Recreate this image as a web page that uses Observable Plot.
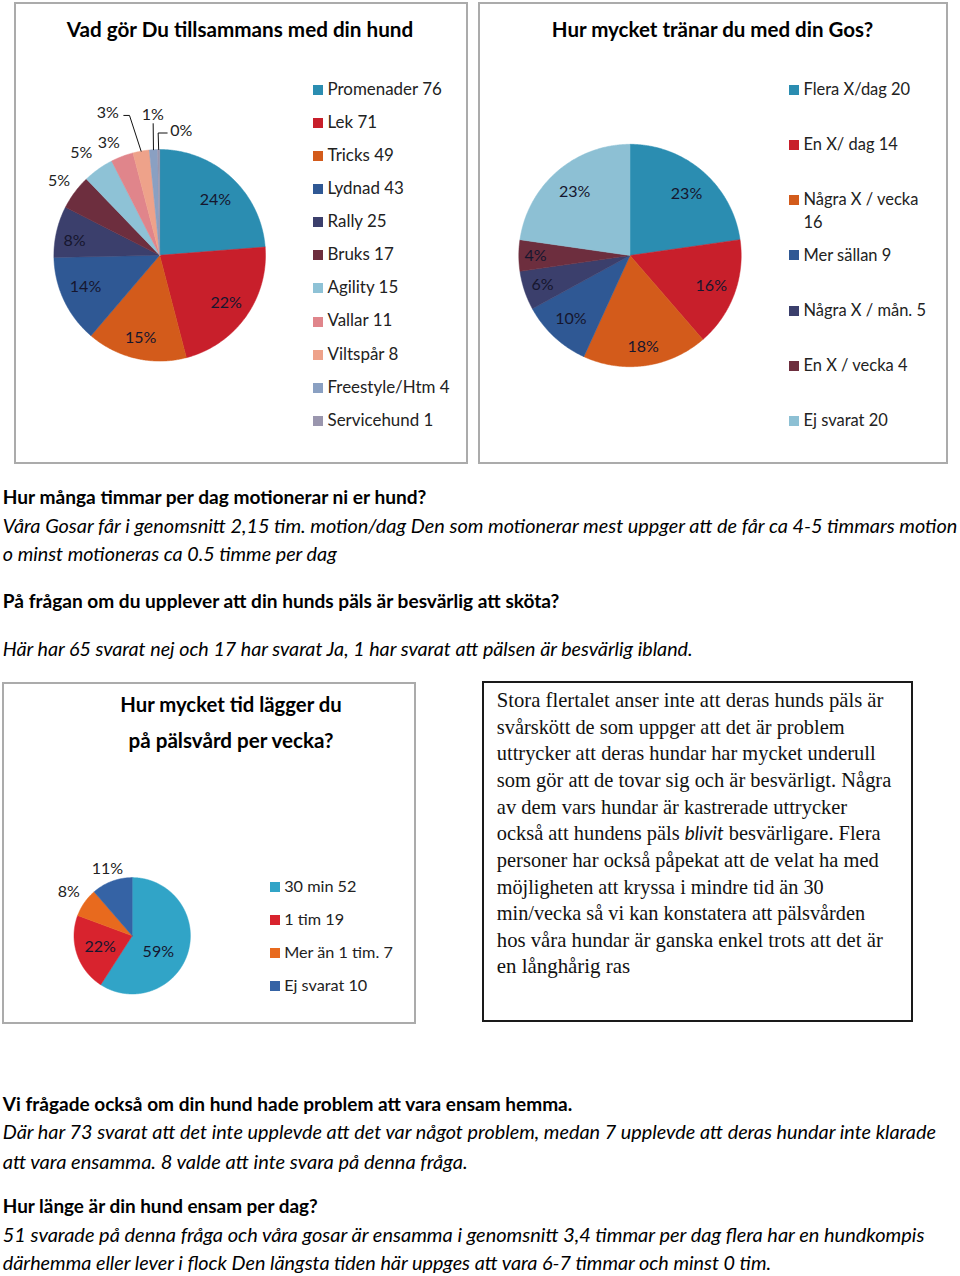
<!DOCTYPE html>
<html>
<head>
<meta charset="utf-8">
<script src="https://cdn.jsdelivr.net/npm/d3@7"></script>
<script src="https://cdn.jsdelivr.net/npm/@observablehq/plot@0.6"></script>
<style>
html,body{margin:0;padding:0;background:#fff;}
#page{position:relative;width:960px;height:1276px;overflow:hidden;background:#fff;}
.abs{position:absolute;white-space:pre;margin:0;padding:0;}
.frame{position:absolute;box-sizing:border-box;}
.svgwrap{position:absolute;}
.svgwrap svg{display:block;overflow:visible;}
.sq{position:absolute;width:10px;height:10px;}
</style>
</head>
<body>
<div id="page"></div>
<script>
// ---------------- DATA ----------------
const activityTitle = "Vad gör Du tillsammans med din hund";
const activityCategories = ["Promenader","Lek","Tricks","Lydnad","Rally","Bruks","Agility","Vallar","Viltspår","Freestyle/Htm","Servicehund"];
const activityValues = [76,71,49,43,25,17,15,11,8,4,1];
const activityPercentLabels = ["24%","22%","15%","14%","8%","5%","5%","3%","3%","1%","0%"];
const activityColors = ["#2b8db1","#c81f2b","#d35b1b","#2f5894","#3b3f6c","#6d2e3e","#8ec2d6","#e0858b","#eea28a","#8aa0c2","#9a96ae"];

const trainingTitle = "Hur mycket tränar du med din Gos?";
const trainingCategories = ["Flera X/dag","En X/ dag","Några X / vecka","Mer sällan","Några X / mån.","En X / vecka","Ej svarat"];
const trainingValues = [20,14,16,9,5,4,20];
const trainingPercentLabels = ["23%","16%","18%","10%","6%","4%","23%"];
const trainingColors = ["#2b8db1","#c81f2b","#d35b1b","#2f5894","#3b3f6c","#6d2e3e","#8dc0d4"];

const groomingTitle = ["Hur mycket tid lägger du","på pälsvård per vecka?"];
const groomingCategories = ["30 min","1 tim","Mer än 1 tim.","Ej svarat"];
const groomingValues = [52,19,7,10];
const groomingPercentLabels = ["59%","22%","8%","11%"];
const groomingColors = ["#31a4c7","#d8232e","#e86a1e","#3563a5"];

const exerciseHeading = "Hur många timmar per dag motionerar ni er hund?";
const exerciseText = ["Våra Gosar får i genomsnitt 2,15 tim. motion/dag Den som motionerar mest uppger att de får ca 4-5 timmars motion","o minst motioneras ca 0.5 timme per dag"];
const coatHeading = "På frågan om du upplever att din hunds päls är besvärlig att sköta?";
const coatText = ["Här har 65 svarat nej och 17 har svarat Ja, 1 har svarat att pälsen är besvärlig ibland."];
const aloneHeading = "Vi frågade också om din hund hade problem att vara ensam hemma.";
const aloneText = ["Där har 73 svarat att det inte upplevde att det var något problem, medan 7 upplevde att deras hundar inte klarade","att vara ensamma. 8 valde att inte svara på denna fråga."];
const aloneTimeHeading = "Hur länge är din hund ensam per dag?";
const aloneTimeText = ["51 svarade på denna fråga och våra gosar är ensamma i genomsnitt 3,4 timmar per dag flera har en hundkompis","därhemma eller lever i flock Den längsta tiden här uppges att vara 6-7 timmar och minst 0 tim."];
const groomingComment = ["Stora flertalet anser inte att deras hunds päls är","svårskött de som uppger att det är problem","uttrycker att deras hundar har mycket underull","som gör att de tovar sig och är besvärligt. Några","av dem vars hundar är kastrerade uttrycker","också att hundens päls blivit besvärligare. Flera","personer har också påpekat att de velat ha med","möjligheten att kryssa i mindre tid än 30","min/vecka så vi kan konstatera att pälsvården","hos våra hundar är ganska enkel trots att det är","en långhårig ras"];
const groomingCommentItalicWord = "blivit";

// ---------------- HELPERS ----------------
const SANS = "Lato, 'Open Sans', sans-serif";
const SERIF = "'Liberation Serif', 'DejaVu Serif', serif";
const page = document.getElementById("page");

function place(o) {
  const el = document.createElement("div");
  el.className = "abs";
  const fam = o.family || SANS;
  el.style.fontFamily = fam;
  el.style.fontWeight = o.weight || "400";
  el.style.fontStyle = o.italic ? "italic" : "normal";
  el.style.color = o.color || "#000";
  let fs = o.fs;
  el.style.fontSize = fs + "px";
  el.style.lineHeight = (1.2 * fs) + "px";
  if (o.html) el.innerHTML = o.html; else el.textContent = o.text;
  page.appendChild(el);
  if (o.fitW) {
    const m = el.getBoundingClientRect().width;
    fs = fs * o.fitW / m;
    el.style.fontSize = fs + "px";
  }
  if (o.wrap) { el.style.whiteSpace = "normal"; el.style.width = o.wrap + "px"; }
  const L = o.lh || 1.2 * fs;
  el.style.lineHeight = L + "px";
  const M = fam === SERIF ? {c: 1.107, a: 0.891} : {c: 1.2, a: 0.987};
  const top = o.baseline - ((L - M.c * fs) / 2 + M.a * fs);
  const w = el.getBoundingClientRect().width;
  el.style.left = (o.anchor === "middle" ? o.x - w / 2 : o.x) + "px";
  el.style.top = top + "px";
  return fs;
}

function frame(b, border) {
  const d = document.createElement("div");
  d.className = "frame";
  Object.assign(d.style, {left: b.x + "px", top: b.y + "px", width: b.w + "px", height: b.h + "px", border});
  page.appendChild(d);
}

function legend(cfg) {
  const {categories, values, colors, x, sqX, baseline0, step, fitW, wrap, lh} = cfg;
  let fs = null;
  categories.forEach((c, i) => {
    const bl = baseline0 + i * step;
    const sq = document.createElement("div");
    sq.className = "sq";
    sq.style.left = sqX + "px";
    sq.style.top = (bl - 5.7 - 5) + "px";
    sq.style.background = colors[i];
    page.appendChild(sq);
    const text = c + " " + values[i];
    if (fs === null) fs = place({text, x, baseline: bl, fs: 16, fitW, color: "#222", wrap, lh});
    else place({text, x, baseline: bl, fs, color: "#222", wrap, lh});
  });
}

function pie(cfg) {
  const {box, cx, cy, r, categories, values, pctLabels, colors, labelK, nudges, leaders} = cfg;
  const arcs = d3.pie().sort(null).value(d => d)(values);
  const poly = [];
  arcs.forEach((a, i) => {
    const key = categories[i];
    poly.push({key, x: 0, y: 0});
    const n = Math.max(2, Math.ceil((a.endAngle - a.startAngle) / (Math.PI / 360)));
    for (let j = 0; j <= n; j++) {
      const t = a.startAngle + (a.endAngle - a.startAngle) * j / n;
      poly.push({key, x: Math.sin(t), y: Math.cos(t)});
    }
    poly.push({key, x: 0, y: 0});
  });
  const labels = arcs.map((a, i) => {
    const m = (a.startAngle + a.endAngle) / 2;
    const k = labelK[i];
    const [nx, ny] = nudges[i] || [0, 0];
    return {text: pctLabels[i], x: k * Math.sin(m) + nx / r, y: k * Math.cos(m) - ny / r, outside: k >= 1};
  });
  const leaderPts = [];
  Object.entries(leaders || {}).forEach(([idx, offs]) => {
    const a = arcs[+idx];
    const m = (a.startAngle + a.endAngle) / 2;
    const ex = Math.sin(m), ey = Math.cos(m);
    offs.forEach(([dx, dy]) => leaderPts.push({id: idx, x: ex + dx / r, y: ey - dy / r}));
  });
  const lx = cx - box.x, ly = cy - box.y;
  const svg = Plot.plot({
    width: box.w, height: box.h, margin: 0,
    x: {domain: [-1, 1], range: [lx - r, lx + r], axis: null},
    y: {domain: [-1, 1], range: [ly + r, ly - r], axis: null},
    color: {domain: categories, range: colors},
    style: {fontFamily: SANS, background: "transparent", overflow: "visible"},
    marks: [
      Plot.line(poly, {x: "x", y: "y", z: "key", fill: "key", stroke: "key", strokeWidth: 0.5, curve: "linear"}),
      Plot.line(leaderPts, {x: "x", y: "y", z: "id", stroke: "#111", strokeWidth: 1, curve: "linear"}),
      Plot.text(labels.filter(d => !d.outside), {x: "x", y: "y", text: "text", fill: "#16162e", fontSize: 16}),
      Plot.text(labels.filter(d => d.outside), {x: "x", y: "y", text: "text", fill: "#222", fontSize: 16})
    ]
  });
  const wrap = document.createElement("div");
  wrap.className = "svgwrap";
  wrap.style.left = box.x + "px";
  wrap.style.top = box.y + "px";
  wrap.appendChild(svg);
  page.appendChild(wrap);
}

// ---------------- CHART 1 ----------------
const box1 = {x: 14, y: 2, w: 454, h: 462};
frame(box1, "2px solid #ababab");
pie({
  box: box1, cx: 159.2, cy: 254.8, r: 105.8,
  categories: activityCategories, values: activityValues, pctLabels: activityPercentLabels, colors: activityColors,
  labelK: [0.74, 0.77, 0.80, 0.76, 0.82, 1.185, 1.22, 1.16, 1, 1, 1],
  nudges: [[2.5, 2.5], [0, 0], [0, 0], [-1.5, -2.4], [-0.6, 4.6], [0, 0], [-3.5, 2.7], [-7.3, 2.6], [-33.3, -38], [-0.7, -34.9], [22.6, -19]],
  leaders: {8: [[0, 0], [-11.6, -35.7], [-17.3, -35.7]], 9: [[0, 0], [-0.3, -26]], 10: [[0, 0], [-0.5, -16.5], [8.5, -16.5]]}
});
place({text: activityTitle, x: 240, anchor: "middle", baseline: 37.5, fs: 20, weight: 700, fitW: 346.7});
legend({categories: activityCategories, values: activityValues, colors: activityColors, x: 327.5, sqX: 312.7, baseline0: 95.5, step: 33.1, fitW: 114.4});

// ---------------- CHART 2 ----------------
const box2 = {x: 478, y: 2, w: 470, h: 462};
frame(box2, "2px solid #ababab");
pie({
  box: box2, cx: 629.5, cy: 255, r: 111.2,
  categories: trainingCategories, values: trainingValues, pctLabels: trainingPercentLabels, colors: trainingColors,
  labelK: [0.75, 0.78, 0.83, 0.78, 0.83, 0.85, 0.76],
  nudges: [[1.9, 1.3], [0, 0], [0, 0], [0, 0], [0, 0], [0, 0], [0, 0]],
  leaders: {}
});
place({text: trainingTitle, x: 712.5, anchor: "middle", baseline: 37.5, fs: 20, weight: 700, fitW: 321.7});
legend({categories: trainingCategories, values: trainingValues, colors: trainingColors, x: 803.5, sqX: 789.3, baseline0: 95.5, step: 55.2, fitW: 106.7, wrap: 134, lh: 22.3});

// ---------------- CHART 3 ----------------
const box3 = {x: 2, y: 682, w: 414, h: 342};
frame(box3, "2px solid #ababab");
pie({
  box: box3, cx: 131.7, cy: 935.3, r: 58.2,
  categories: groomingCategories, values: groomingValues, pctLabels: groomingPercentLabels, colors: groomingColors,
  labelK: [0.53, 0.58, 1.327, 1.222],
  nudges: [[-3.5, 7.7], [0, 0], [0, 0], [0, 0]],
  leaders: {}
});
place({text: groomingTitle[0], x: 231, anchor: "middle", baseline: 712, fs: 20, weight: 700, fitW: 221.7});
place({text: groomingTitle[1], x: 231, anchor: "middle", baseline: 748.5, fs: 20, weight: 700, fitW: 205});
legend({categories: groomingCategories, values: groomingValues, colors: groomingColors, x: 284.2, sqX: 270, baseline0: 892.3, step: 33, fitW: 72.3});

// ---------------- TEXT BOX ----------------
const boxT = {x: 482, y: 681, w: 431, h: 341};
frame(boxT, "2px solid #1a1a1a");
const commentWidths = [386.7, 347.7, 378.7, 394.3, 350.3, 383.7, 381.7, 327, 368.3, 386, 133.3];
groomingComment.forEach((line, i) => {
  const html = line.replace(groomingCommentItalicWord,
    `<span style="font-family:${SANS.replace(/'/g, "&#39;")};font-style:italic;font-size:0.93em;line-height:0">${groomingCommentItalicWord}</span>`);
  place({html, x: 496.8, baseline: 707.3 + i * 26.65, fs: 18.7, family: SERIF, fitW: commentWidths[i], color: "#111"});
});

// ---------------- BODY TEXT ----------------
const body = [
  {text: exerciseHeading, weight: 700, baseline: 505, w: 424},
  {text: exerciseText[0], italic: true, baseline: 533.5, w: 955},
  {text: exerciseText[1], italic: true, baseline: 561.8, w: 334},
  {text: coatHeading, weight: 700, baseline: 608.5, w: 557},
  {text: coatText[0], italic: true, baseline: 656, w: 690},
  {text: aloneHeading, weight: 700, baseline: 1111.7, w: 570},
  {text: aloneText[0], italic: true, baseline: 1140, w: 934},
  {text: aloneText[1], italic: true, baseline: 1168.3, w: 465},
  {text: aloneTimeHeading, weight: 700, baseline: 1213.5, w: 315},
  {text: aloneTimeText[0], italic: true, baseline: 1242.7, w: 922},
  {text: aloneTimeText[1], italic: true, baseline: 1270.7, w: 769}
];
body.forEach(b => place({text: b.text, x: 2.8, baseline: b.baseline, fs: 19, weight: b.weight, italic: b.italic, fitW: b.w, color: "#000"}));
</script>
</body>
</html>
